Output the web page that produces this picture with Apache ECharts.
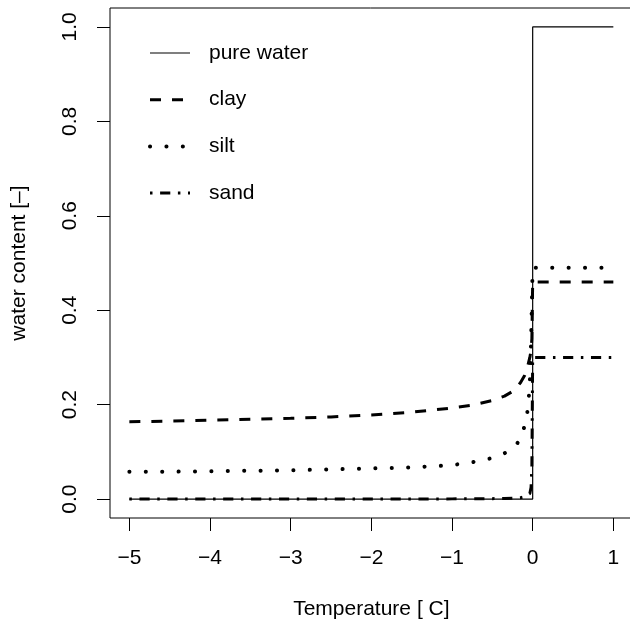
<!DOCTYPE html>
<html>
<head>
<meta charset="utf-8">
<script src="https://cdn.jsdelivr.net/npm/echarts@6/dist/echarts.min.js"></script>
<style>
html,body{margin:0;padding:0;background:#fff;}
#chart{width:630px;height:625px;}
</style>
</head>
<body>
<div id="chart"></div>
<script>
// ---- data ----
const xTicks = [-5, -4, -3, -2, -1, 0, 1];
const yTicks = [0, 0.2, 0.4, 0.6, 0.8, 1.0];
const seriesNames = ['pure water', 'clay', 'silt', 'sand'];

const waterTemps = [-5, 0, 0, 1];
const waterValues = [0, 0, 1, 1];

const frozenTemps = [-5, -4.5, -4, -3.5, -3, -2.5, -2, -1.5, -1, -0.75, -0.5, -0.35, -0.25, -0.2, -0.15, -0.1, -0.07, -0.05, -0.035, -0.02, -0.01, 0];
const clayFrozen = [0.164, 0.165, 0.167, 0.169, 0.171, 0.174, 0.178, 0.184, 0.193, 0.199, 0.209, 0.218, 0.228, 0.236, 0.247, 0.262, 0.276, 0.29, 0.30, 0.315, 0.34, 0.46];
const siltFrozen = [0.058, 0.058, 0.059, 0.060, 0.061, 0.063, 0.065, 0.067, 0.072, 0.078, 0.087, 0.097, 0.107, 0.116, 0.128, 0.155, 0.178, 0.21, 0.25, 0.33, 0.42, 0.49];
const sandFrozen = [0, 0, 0, 0, 0, 0, 0, 0, 0.0005, 0.0008, 0.001, 0.0015, 0.002, 0.0025, 0.003, 0.005, 0.008, 0.01, 0.012, 0.025, 0.07, 0.30];

const thawTemp = 1;
const clayPorosity = 0.46;
const siltPorosity = 0.49;
const sandPorosity = 0.30;

// ---- build ----
function pairs(xs, ys) { return xs.map((x, i) => [x, ys[i]]); }
const waterData = pairs(waterTemps, waterValues);
const clayData = pairs(frozenTemps, clayFrozen).concat([[thawTemp, clayPorosity]]);
const siltData = pairs(frozenTemps, siltFrozen).concat([[thawTemp, siltPorosity]]);
const sandData = pairs(frozenTemps, sandFrozen).concat([[thawTemp, sandPorosity]]);

const FONT = "'Liberation Sans', Arial, Helvetica, sans-serif";
const FS = 21;

const styles = {
  'pure water': {color: '#000', width: 1.2, type: 'solid', cap: 'butt'},
  'clay': {color: '#000', width: 3, type: [11, 11], cap: 'butt'},
  'silt': {color: '#000', width: 4, type: [0.1, 16.3], cap: 'round'},
  'sand': {color: '#000', width: 3, type: [2.5, 7.6, 10.2, 7.6], cap: 'butt'}
};
const seriesData = {'pure water': waterData, 'clay': clayData, 'silt': siltData, 'sand': sandData};

const chart = echarts.init(document.getElementById('chart'), null, {renderer: 'canvas'});
chart.setOption({
  animation: false,
  backgroundColor: '#fff',
  textStyle: {fontFamily: FONT, color: '#000'},
  grid: {
    left: 110, width: 522.7, top: 8, height: 510,
    containLabel: false, outerBoundsMode: 'none',
    show: true, borderColor: '#000', borderWidth: 1, backgroundColor: 'transparent'
  },
  legend: {
    orient: 'vertical',
    left: 148, top: 42, padding: 0,
    itemWidth: 40, itemHeight: 22, itemGap: 24.7,
    selectedMode: false,
    data: seriesNames.map(n => ({name: n, lineStyle: Object.assign({}, styles[n])})),
    itemStyle: {color: 'rgba(0,0,0,0)', borderColor: 'rgba(0,0,0,0)', borderWidth: 0, opacity: 0},
    textStyle: {fontFamily: FONT, fontSize: FS, color: '#000', lineHeight: 22, padding: [0, 0, 0, 14]}
  },
  xAxis: {
    type: 'value', min: -5.24, max: 1.24,
    name: 'Temperature [ C]', nameLocation: 'middle', nameGap: 81,
    nameTextStyle: {fontFamily: FONT, fontSize: FS, color: '#000'},
    axisLine: {show: false, onZero: false},
    axisTick: {show: true, length: 13, inside: false, customValues: xTicks, lineStyle: {color: '#000', width: 1}},
    axisLabel: {show: true, customValues: xTicks, margin: 30, fontFamily: FONT, fontSize: FS, color: '#000',
      formatter: v => (v < 0 ? '\u2212' + Math.abs(v) : String(v))},
    splitLine: {show: false}
  },
  yAxis: {
    type: 'value', min: -0.04, max: 1.04,
    name: 'water content [\u2013]', nameLocation: 'middle', nameGap: 80, nameRotate: 90,
    nameTextStyle: {fontFamily: FONT, fontSize: FS, color: '#000'},
    axisLine: {show: false, onZero: false},
    axisTick: {show: true, length: 13, inside: false, customValues: yTicks, lineStyle: {color: '#000', width: 1}},
    axisLabel: {show: true, customValues: yTicks, margin: 29, rotate: 90, fontFamily: FONT, fontSize: FS, color: '#000',
      formatter: v => v.toFixed(1)},
    splitLine: {show: false}
  },
  series: seriesNames.map(n => ({
    name: n, type: 'line', data: seriesData[n], symbol: 'none', smooth: false,
    lineStyle: styles[n], itemStyle: {color: '#000'}
  }))
});
</script>
</body>
</html>
